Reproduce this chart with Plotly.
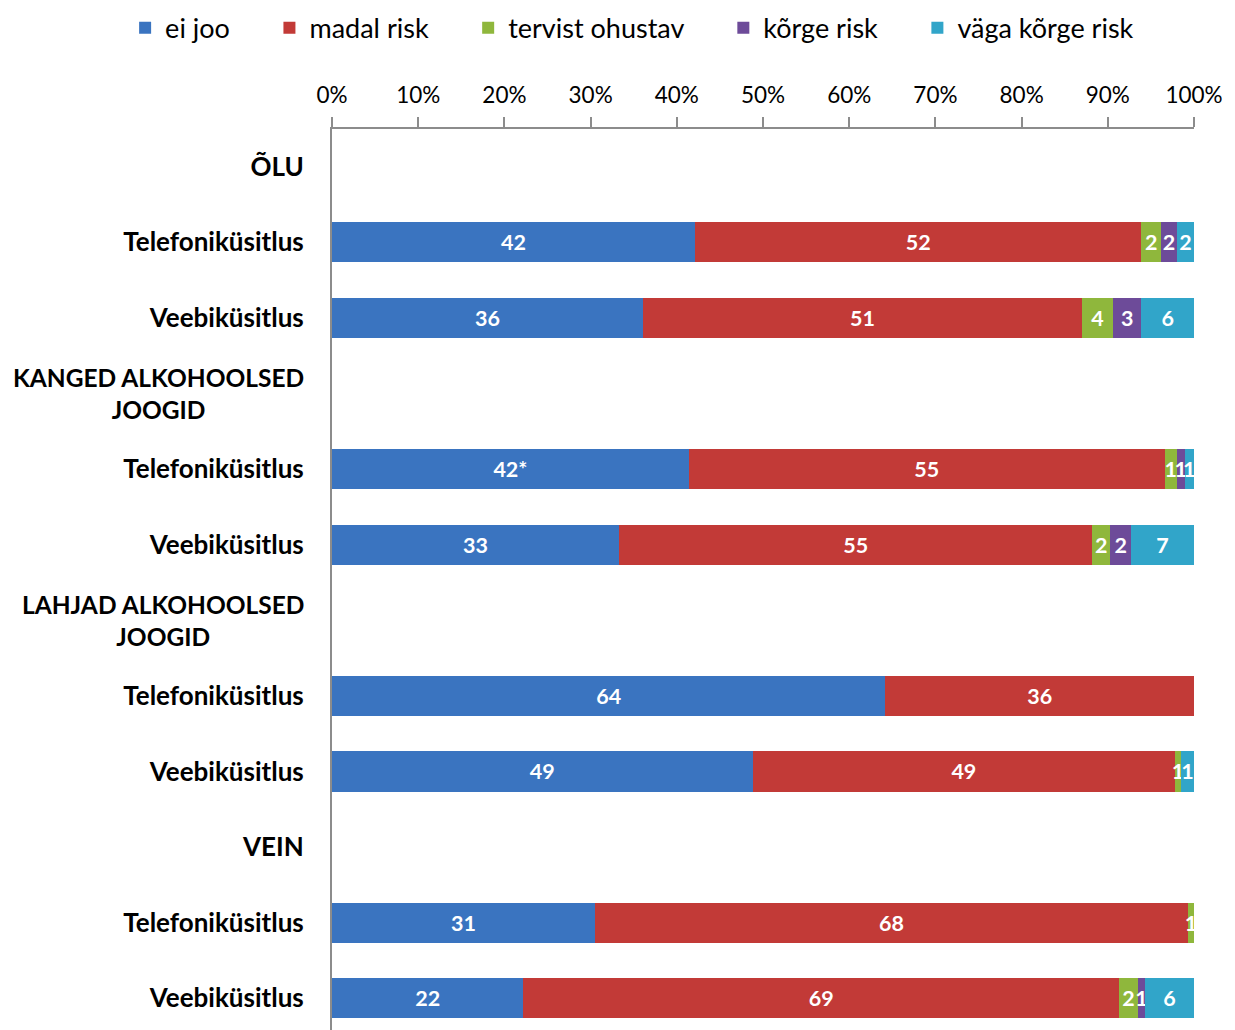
import plotly.graph_objects as go

# Row layout (top to bottom): group headers and survey rows
row_labels = ["ÕLU", "Telefoniküsitlus", "Veebiküsitlus",
              "KANGED ALKOHOOLSED<br>JOOGID", "Telefoniküsitlus", "Veebiküsitlus",
              "LAHJAD ALKOHOOLSED<br>JOOGID", "Telefoniküsitlus", "Veebiküsitlus",
              "VEIN", "Telefoniküsitlus", "Veebiküsitlus"]
data_rows = [1, 2, 4, 5, 7, 8, 10, 11]

# Series values (% of respondents)
ei_joo = [42.1, 36.1, 41.4, 33.3, 64.2, 48.8, 30.5, 22.2]
madal_risk = [51.8, 50.9, 55.2, 54.9, 35.8, 49.0, 68.8, 69.1]
tervist_ohustav = [2.3, 3.6, 1.4, 2.1, None, 0.7, 0.7, 2.2]
korge_risk = [1.8, 3.3, 0.9, 2.4, None, None, None, 0.8]
vaga_korge_risk = [2.0, 6.1, 1.1, 7.3, None, 1.5, None, 5.7]

# Data labels as printed on the chart
lbl_ei_joo = ["42", "36", "42*", "33", "64", "49", "31", "22"]
lbl_madal = ["52", "51", "55", "55", "36", "49", "68", "69"]
lbl_tervist = ["2", "4", "1", "2", "", "1", "1", "2"]
lbl_korge = ["2", "3", "1", "2", "", "", "", "1"]
lbl_vaga = ["2", "6", "1", "7", "", "1", "", "6"]

x_ticks = [0, 10, 20, 30, 40, 50, 60, 70, 80, 90, 100]

series = [
    ("ei joo", ei_joo, lbl_ei_joo, "#3A74C0"),
    ("madal risk", madal_risk, lbl_madal, "#C23A37"),
    ("tervist ohustav", tervist_ohustav, lbl_tervist, "#8FB73C"),
    ("kõrge risk", korge_risk, lbl_korge, "#6D4B99"),
    ("väga kõrge risk", vaga_korge_risk, lbl_vaga, "#31A5C9"),
]

FONT = "Lato, Open Sans, sans-serif"
pad = "\u00a0" * 5

fig = go.Figure()
for i, (name, vals, lbls, color) in enumerate(series):
    legend_name = name + (pad if i < len(series) - 1 else "")
    fig.add_trace(go.Bar(
        y=data_rows, x=vals, name=legend_name, orientation="h",
        marker=dict(color=color, line=dict(width=0)),
        text=lbls, textposition="inside", insidetextanchor="middle",
        textfont=dict(family=FONT, size=21.5, color="white", weight="bold"),
        width=0.53,
    ))

single_rows = [i for i, t in enumerate(row_labels) if "<br>" not in t]
fig.update_yaxes(
    tickmode="array", tickvals=single_rows,
    ticktext=[row_labels[i] for i in single_rows],
    range=[11.42, -0.5], showgrid=False, zeroline=False,
    showline=True, linecolor="#8C8C8C", linewidth=2,
    ticks="", ticklabelstandoff=21,
    tickfont=dict(family=FONT, size=26, color="black", weight="bold"),
)
fig.update_xaxes(
    side="top", range=[0, 100], tickmode="array", tickvals=x_ticks,
    ticktext=[f"{v}%" for v in x_ticks],
    showgrid=False, zeroline=False, showline=True, linecolor="#8C8C8C", linewidth=2,
    ticks="outside", ticklen=10, tickcolor="#8C8C8C", tickwidth=1.5,
    ticklabelstandoff=5,
    tickfont=dict(family=FONT, size=22.5, color="black"),
)

for i, t in enumerate(row_labels):
    if "<br>" in t:
        fig.add_annotation(
            x=0, xref="paper", y=i, yref="y", text=t, showarrow=False,
            xanchor="right", align="center", xshift=-26,
            font=dict(family=FONT, size=24.5, color="black", weight="bold"),
        )

fig.update_layout(
    width=1235, height=1030,
    margin=dict(l=324, r=49, t=121, b=8, autoexpand=False),
    barmode="stack", bargap=0.47,
    plot_bgcolor="white", paper_bgcolor="white",
    showlegend=True,
    legend=dict(orientation="h", x=-0.240, xanchor="left", y=1.112, yref="paper",
                yanchor="middle", font=dict(family=FONT, size=27, color="black"),
                traceorder="normal", itemclick=False),
    uniformtext=dict(minsize=21.5, mode="show"),
)

fig.write_html("out.html")
